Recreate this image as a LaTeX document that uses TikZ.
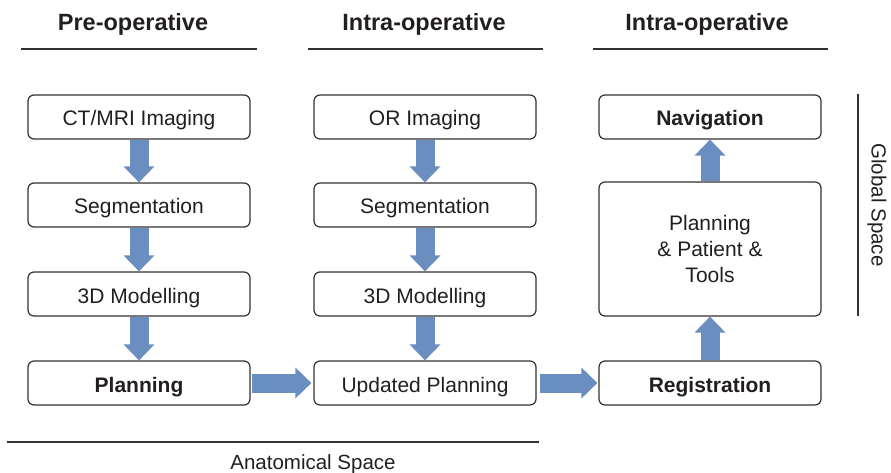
\documentclass[tikz,border=0pt]{standalone}
\usepackage{fontspec}
\setmainfont{Liberation Sans}
\usetikzlibrary{arrows.meta}
\definecolor{arrowblue}{RGB}{106,142,192}
\definecolor{txt}{RGB}{35,31,32}
\definecolor{frame}{RGB}{50,50,50}
\tikzset{
  stepbox/.style={draw=frame, line width=1.2pt, rounded corners=6pt, fill=white,
    minimum width=222pt, minimum height=44pt, inner sep=0pt, text=txt,
    text height=18pt, text depth=0pt,
    font=\fontsize{21}{25}\selectfont},
  boldbox/.style={stepbox, font=\fontsize{21}{25}\selectfont\bfseries},
  heading/.style={text=txt, font=\fontsize{23.5}{28}\selectfont\bfseries, anchor=base, inner sep=0pt},
  sidelabel/.style={text=txt, font=\fontsize{20.5}{24}\selectfont, inner sep=0pt},
  rule/.style={draw=frame, line width=1.1pt},
  blockarrow/.style={draw=arrowblue, line width=19pt, -{Triangle[length=16pt,width=30pt]}},
}
\begin{document}
\begin{tikzpicture}[x=1pt,y=-1pt]
\useasboundingbox (0,0) rectangle (891,473);

% headings
\node[heading] (h1) at (133,31) {Pre-operative};
\node[heading] (h2) at (424,31) {Intra-operative};
\node[heading] (h3) at (707,31) {Intra-operative};
\coordinate (l1a) at (21,49);  \coordinate (l1b) at (257,49);
\coordinate (l2a) at (308,49); \coordinate (l2b) at (543,49);
\coordinate (l3a) at (593,49); \coordinate (l3b) at (828,49);
\draw[rule] (l1a) -- (l1b);
\draw[rule] (l2a) -- (l2b);
\draw[rule] (l3a) -- (l3b);

% column 1
\node[stepbox] (ct)   at (139,117) {CT/MRI Imaging};
\node[stepbox] (seg1) at (139,205) {Segmentation};
\node[stepbox] (mod1) at (139,294) {3D Modelling};
\node[boldbox] (plan) at (139,383) {Planning};

% column 2
\node[stepbox] (or)   at (425,117) {OR Imaging};
\node[stepbox] (seg2) at (425,205) {Segmentation};
\node[stepbox] (mod2) at (425,294) {3D Modelling};
\node[stepbox] (upd)  at (425,383) {Updated Planning};

% column 3
\node[boldbox] (nav) at (710,117) {Navigation};
\node[stepbox, minimum height=134pt, text height=, text depth=, align=center, font=\fontsize{21}{26}\selectfont] (ppt) at (710,249) {Planning\\\& Patient \&\\Tools};
\node[boldbox] (reg) at (710,383) {Registration};

% arrows
\draw[blockarrow] (ct.south) -- (seg1.north);
\draw[blockarrow] (seg1.south) -- (mod1.north);
\draw[blockarrow] (mod1.south) -- (plan.north);
\draw[blockarrow] (or.south) -- (seg2.north);
\draw[blockarrow] (seg2.south) -- (mod2.north);
\draw[blockarrow] (mod2.south) -- (upd.north);
\draw[blockarrow] ([xshift=1pt]plan.east) -- ([xshift=-2pt]upd.west);
\draw[blockarrow] ([xshift=3pt]upd.east) -- ([xshift=-1pt]reg.west);
\draw[blockarrow] (reg.north) -- (ppt.south);
\draw[blockarrow] (ppt.north) -- (nav.south);

% side labels
\coordinate (ga) at (858,94); \coordinate (gb) at (858,316);
\draw[rule] (ga) -- (gb);
\node[sidelabel, rotate=-90] (global) at (877,205) {Global Space};
\coordinate (aa) at (7,442); \coordinate (ab) at (539,442);
\draw[rule] (aa) -- (ab);
\node[sidelabel] (anat) at (313,464) {Anatomical Space};
\end{tikzpicture}
\end{document}
